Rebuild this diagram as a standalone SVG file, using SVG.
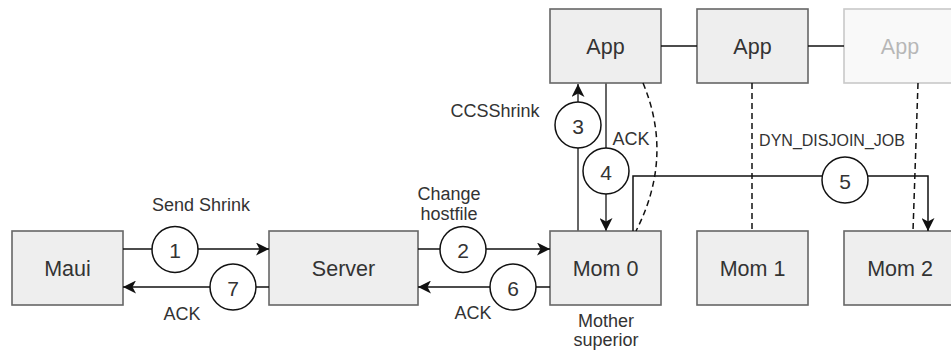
<svg xmlns="http://www.w3.org/2000/svg" width="951" height="351" viewBox="0 0 951 351">
  <defs>
    <style>
      .box { fill: #eeeeee; stroke: #666666; stroke-width: 1.6; }
      .box-text { font-family: "Liberation Sans", Arial, sans-serif; font-size: 21.5px; fill: #333333; text-anchor: middle; }
      .lbl { font-family: "Liberation Sans", Arial, sans-serif; font-size: 18px; fill: #333333; text-anchor: middle; }
      .lbl-sm { font-family: "Liberation Sans", Arial, sans-serif; font-size: 16px; fill: #333333; text-anchor: middle; }
      .edge { fill: none; stroke: #111111; stroke-width: 1.5; }
      .edge-gray { fill: none; stroke: #666666; stroke-width: 2; }
      .dash { fill: none; stroke: #111111; stroke-width: 1.5; stroke-dasharray: 6 4; }
      .step { fill: #ffffff; stroke: #111111; stroke-width: 1.5; }
      .step-text { font-family: "Liberation Sans", Arial, sans-serif; font-size: 21px; fill: #333333; text-anchor: middle; }
    </style>
    <marker id="arrow" markerUnits="userSpaceOnUse" markerWidth="14" markerHeight="13" refX="13" refY="6.5" orient="auto">
      <path d="M0,0 L13,6.5 L0,13 L3.5,6.5 z" fill="#111111"/>
    </marker>
  </defs>

  <!-- nodes -->
  <g id="maui">
    <rect class="box" x="12" y="231" width="111" height="74"/>
    <text class="box-text" x="67.5" y="276">Maui</text>
  </g>
  <g id="server">
    <rect class="box" x="269" y="231" width="149" height="74"/>
    <text class="box-text" x="343.5" y="276">Server</text>
  </g>
  <g id="mom0">
    <rect class="box" x="550" y="231" width="111" height="74"/>
    <text class="box-text" x="605.5" y="276">Mom 0</text>
    <text class="lbl" x="606" y="327">Mother</text>
    <text class="lbl" x="606" y="346">superior</text>
  </g>
  <g id="mom1">
    <rect class="box" x="697" y="231" width="111" height="74"/>
    <text class="box-text" x="752.5" y="276">Mom 1</text>
  </g>
  <g id="mom2">
    <rect class="box" x="844" y="231" width="112" height="74"/>
    <text class="box-text" x="900" y="276">Mom 2</text>
  </g>
  <g id="app0">
    <rect class="box" x="550" y="9" width="111" height="74"/>
    <text class="box-text" x="605.5" y="54">App</text>
  </g>
  <g id="app1">
    <rect class="box" x="697" y="9" width="111" height="74"/>
    <text class="box-text" x="752.5" y="54">App</text>
  </g>
  <g id="app2" opacity="0.35">
    <rect class="box" x="844" y="9" width="112" height="74"/>
    <text class="box-text" x="900" y="54">App</text>
  </g>

  <!-- connectors -->
  <g id="connectors">
    <!-- app chain -->
    <line class="edge" x1="661" y1="46" x2="697" y2="46"/>
    <line class="edge" x1="808" y1="46" x2="844" y2="46"/>

    <!-- app to mom links -->
    <path class="dash" d="M643,83 Q674,157 636,231"/>
    <line class="dash" x1="752" y1="83" x2="752" y2="231"/>
    <line class="dash" x1="918" y1="83" x2="913" y2="231"/>

    <!-- 1: Maui -> Server -->
    <line class="edge" x1="123" y1="249" x2="269" y2="249" marker-end="url(#arrow)"/>
    <!-- 7: Server -> Maui -->
    <line class="edge" x1="269" y1="287" x2="123" y2="287" marker-end="url(#arrow)"/>
    <!-- 2: Server -> Mom 0 -->
    <line class="edge" x1="418" y1="249" x2="550" y2="249" marker-end="url(#arrow)"/>
    <!-- 6: Mom 0 -> Server -->
    <line class="edge" x1="550" y1="287" x2="418" y2="287" marker-end="url(#arrow)"/>
    <!-- 3: Mom 0 -> App -->
    <line class="edge-gray" x1="578" y1="231" x2="578" y2="84" marker-end="url(#arrow)"/>
    <!-- 4: App -> Mom 0 -->
    <line class="edge-gray" x1="606" y1="83" x2="606" y2="231" marker-end="url(#arrow)"/>
    <!-- 5: Mom 0 -> Mom 2 -->
    <polyline class="edge" points="633,231 633,176 928,176 928,231" marker-end="url(#arrow)"/>

    <!-- step badges -->
    <circle class="step" cx="175" cy="249.5" r="23"/>
    <text class="step-text" x="175" y="258">1</text>
    <circle class="step" cx="463" cy="249.5" r="23"/>
    <text class="step-text" x="463" y="258">2</text>
    <circle class="step" cx="578" cy="125" r="23"/>
    <text class="step-text" x="578" y="133.5">3</text>
    <circle class="step" cx="606" cy="171" r="23"/>
    <text class="step-text" x="606" y="179.5">4</text>
    <circle class="step" cx="845" cy="180" r="23"/>
    <text class="step-text" x="845" y="188.5">5</text>
    <circle class="step" cx="513" cy="287" r="23"/>
    <text class="step-text" x="513" y="295.5">6</text>
    <circle class="step" cx="233" cy="287" r="23"/>
    <text class="step-text" x="233" y="295.5">7</text>

    <!-- edge labels -->
    <text class="lbl" x="201" y="211">Send Shrink</text>
    <text class="lbl" x="182" y="320">ACK</text>
    <text class="lbl" x="449" y="200">Change</text>
    <text class="lbl" x="449" y="220">hostfile</text>
    <text class="lbl" x="473" y="319">ACK</text>
    <text class="lbl" x="495" y="117">CCSShrink</text>
    <text class="lbl" x="631" y="145">ACK</text>
    <text class="lbl-sm" x="832" y="146">DYN_DISJOIN_JOB</text>
  </g>
</svg>
